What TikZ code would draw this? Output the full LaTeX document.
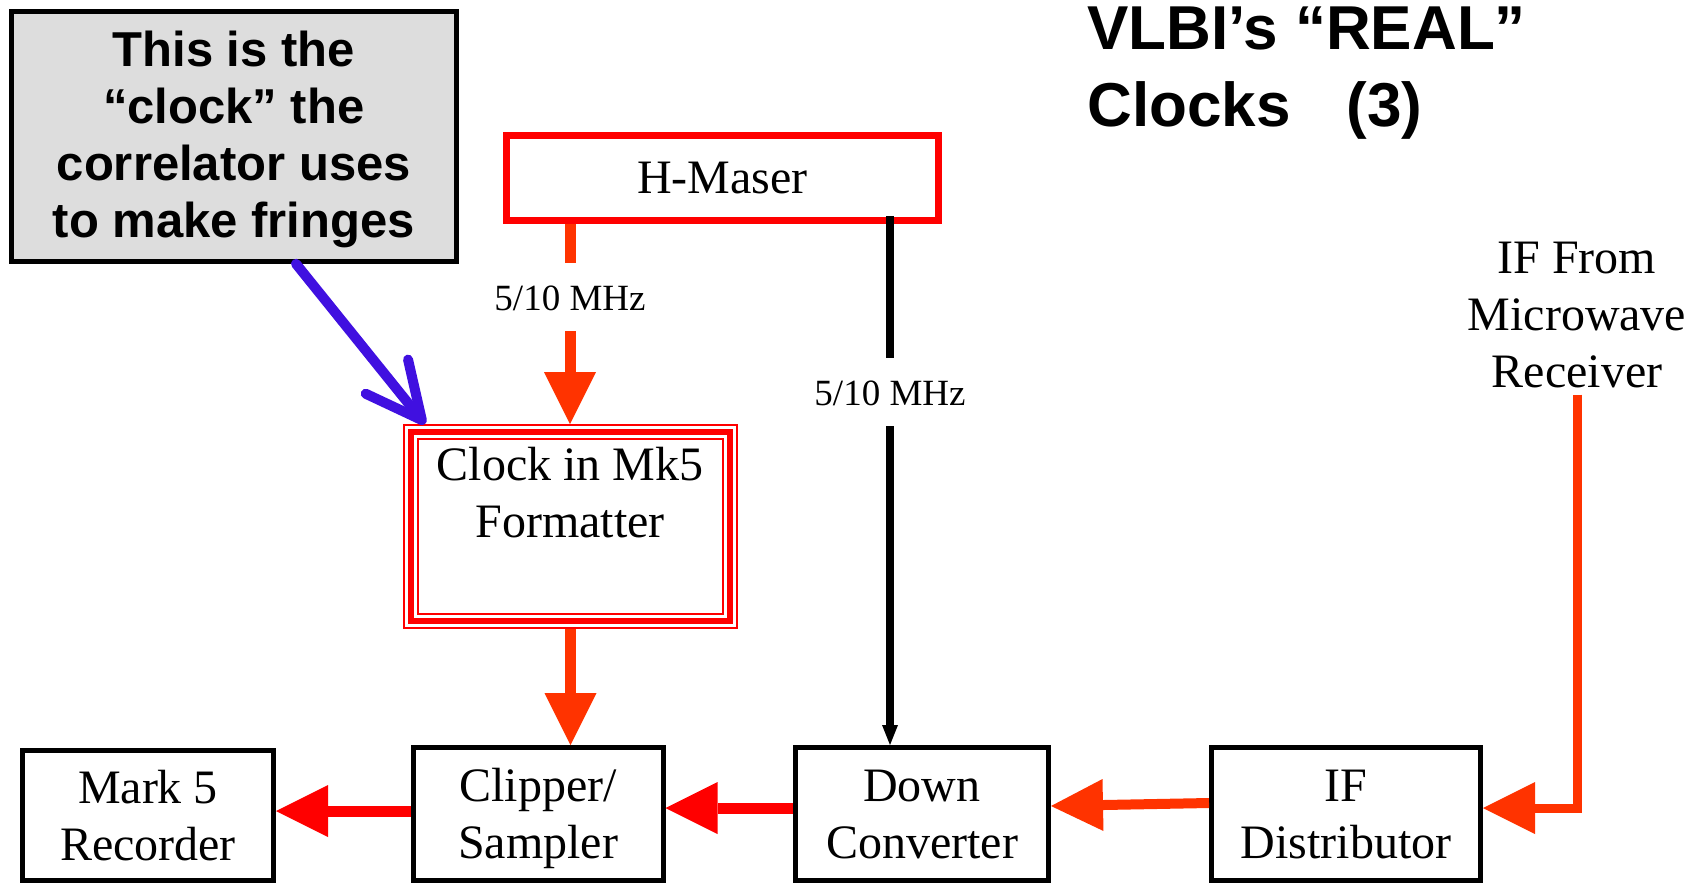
\documentclass[tikz,border=0pt]{standalone}
\usepackage{fontspec}
\setmainfont{Liberation Serif}
\setsansfont{Liberation Sans}
\usetikzlibrary{arrows.meta}
\definecolor{hred}{RGB}{255,0,0}
\definecolor{ored}{RGB}{255,51,0}
\definecolor{vblue}{RGB}{64,16,224}
\definecolor{cgray}{RGB}{221,221,221}
\newcommand{\boxlift}{\rule{0pt}{21.5pt}}
\newcommand{\boxdrop}{\rule[-5.3pt]{0pt}{5.3pt}}
\newcommand{\notelift}{\rule{0pt}{21.2pt}}
\tikzset{
  box/.style={draw=black, line width=2.5pt, rectangle, inner sep=0pt, align=center,
    font=\fontsize{24pt}{28.5pt}\selectfont},
  boxtext/.style={inner sep=0pt, align=center, font=\fontsize{24pt}{28.5pt}\selectfont},
  callout/.style={draw=black, fill=cgray, line width=2.5pt, rectangle, inner sep=0pt, align=center,
    font=\fontsize{24.5pt}{28.5pt}\sffamily\bfseries\selectfont},
  titletext/.style={inner sep=0pt, align=left,
    font=\fontsize{31pt}{38.5pt}\sffamily\bfseries\selectfont},
  hbox/.style={draw=hred, line width=3.5pt, rectangle, inner sep=0pt,
    font=\fontsize{24pt}{28.5pt}\selectfont},
  clkbox/.style={draw=hred, line width=3.35pt, rectangle, inner sep=0pt, outer sep=4pt,
    preaction={draw=hred, line width=1.15pt, double=white, double distance=5.7pt}},
  lbl/.style={inner xsep=0pt, inner ysep=10.5pt, text height=13pt, text depth=0pt,
    font=\fontsize{18.5pt}{22pt}\selectfont},
  otip/.style={-{Triangle[length=26pt,width=26pt,line width=0pt]}},
  oline/.style={draw=ored, line width=5.5pt},
  oarrow/.style={oline, otip},
  rarrow/.style={draw=hred, line width=5.5pt, otip},
  bline/.style={draw=black, line width=4pt},
  barrow/.style={bline, -{Triangle[length=10pt,width=8pt,line width=0pt]}},
  blarrow/.style={draw=vblue, line width=5pt, line cap=round,
    -{Straight Barb[length=27.9pt,width=27.2pt,round]}}
}
\begin{document}
\begin{tikzpicture}[x=0.5pt,y=-0.5pt]
\useasboundingbox (0,0) rectangle (1705,885);

% nodes
\node[callout, minimum width=222.5pt, minimum height=125pt] (note) at (233.8,136.3)
  {\notelift This is the\\“clock” the\\correlator uses\\to make fringes};
\node[titletext, anchor=north west] (title) at (1087,6) {VLBI’s “REAL”\\Clocks\hspace{0.9em}(3)};
\node[hbox, minimum width=216pt, minimum height=42.5pt] (hm) at (722.5,178) {H-Maser};
\node[clkbox, minimum width=159.5pt, minimum height=94.5pt] (clk) at (570.5,526.5) {};
\node[boxtext, anchor=north] (clktxt) at (570,447) {Clock in Mk5\\Formatter};
\node[box, minimum width=125.5pt, minimum height=65pt] (mk5) at (148,815.5) {\boxlift Mark 5\\Recorder\boxdrop};
\node[box, minimum width=125pt, minimum height=66.5pt] (clip) at (538,814) {\boxlift Clipper/\\Sampler\boxdrop};
\node[box, minimum width=126.5pt, minimum height=66.5pt] (dc) at (922,814) {\boxlift Down\\Converter\boxdrop};
\node[box, minimum width=134.5pt, minimum height=66.5pt] (ifd) at (1346,814) {\boxlift IF\\Distributor\boxdrop};
\node[boxtext, anchor=north] (ifsrc) at (1577,242) {IF From\\Microwave\\Receiver};
\node[lbl] (l1) at (570,297) {5/10 MHz};
\node[lbl] (l2) at (890,392) {5/10 MHz};

% connectors
\draw[oline] (hm.south -| l1.north) -- (l1.north);
\draw[oarrow] (l1.south) -- (l1.south |- clk.north);
\draw[oarrow] (clk.south) -- (clk.south |- clip.north);
\draw[bline, shorten <=-4pt] (hm.south -| l2.north) -- (l2.north);
\draw[barrow] (l2.south) -- (l2.south |- dc.north);
\draw[rarrow] (clip.west |- 0,811) -- (mk5.east |- 0,811);
\draw[rarrow] (dc.west |- 0,808) -- (clip.east |- 0,808);
\draw[oarrow, line width=5pt] (ifd.west |- 0,803) -- (dc.east |- 0,806);
\draw[oarrow, line width=4.5pt, shorten <=3pt] (ifsrc.south) -- (ifsrc.south |- 0,808) -- (ifd.east |- 0,808);
\draw[blarrow] (note.296) -- ([xshift=11pt]clk.north west);
\end{tikzpicture}
\end{document}
